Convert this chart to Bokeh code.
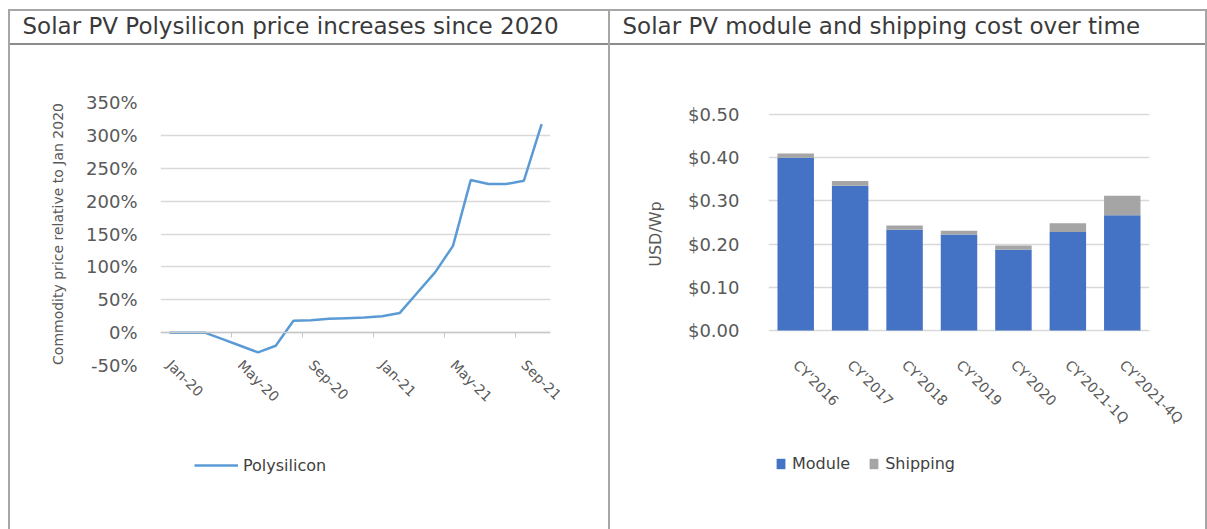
import math
from bokeh.plotting import figure
from bokeh.layouts import row, column
from bokeh.models import (Range1d, FactorRange, FixedTicker, LinearAxis, Legend, LegendItem,
                          NumeralTickFormatter, PrintfTickFormatter, ColumnDataSource, Title)
from bokeh.embed import file_html
from bokeh.resources import INLINE

# ---------------- data ----------------
left_title = "Solar PV Polysilicon price increases since 2020"
right_title = "Solar PV module and shipping cost over time"

months = ["Jan-20", "Feb-20", "Mar-20", "Apr-20", "May-20", "Jun-20", "Jul-20", "Aug-20",
          "Sep-20", "Oct-20", "Nov-20", "Dec-20", "Jan-21", "Feb-21", "Mar-21", "Apr-21",
          "May-21", "Jun-21", "Jul-21", "Aug-21", "Sep-21", "Oct-21"]
polysilicon = [0, 0, 0, -10, -20, -30, -20, 18, 19, 21, 22, 23, 25, 30, 61, 92,
               132, 232, 226, 226, 231, 317]
pct_ticks = [-50, 0, 50, 100, 150, 200, 250, 300, 350]

categories = ["CY'2016", "CY'2017", "CY'2018", "CY'2019", "CY'2020", "CY'2021-1Q", "CY'2021-4Q"]
module = [0.400, 0.335, 0.233, 0.222, 0.187, 0.228, 0.267]
shipping = [0.010, 0.011, 0.010, 0.009, 0.010, 0.020, 0.045]
usd_ticks = [0.0, 0.1, 0.2, 0.3, 0.4, 0.5]

# ---------------- style ----------------
FONT = "DejaVu Sans"
TXT = "#595959"
DARK = "#404040"
GRID = "#d9d9d9"
FRAME = "#a6a6a6"
HEAD = "#8c8c8c"
LINE_BLUE = "#5B9BD5"
BLUE = "#4472C4"
GRAY = "#A5A5A5"

MAIN_H, LEG_H = 450, 79
TOP, BOTTOM = 102, 85          # frame rows 102..365 in both main plots


def seg(color, x, y, w, h):
    return f"linear-gradient({color},{color}) {x} {y} / {w} {h} no-repeat"


def main_fig(w, x_range, y_range, bg, title_text, title_offset):
    p = figure(width=w, height=MAIN_H, x_range=x_range, y_range=y_range, output_backend="svg",
               toolbar_location=None, tools="", min_border_left=160, min_border_right=58,
               min_border_top=TOP, min_border_bottom=BOTTOM, styles={"background": bg})
    p.outline_line_color = None
    p.background_fill_color = "white"
    p.border_fill_alpha = 0
    # real title (stacked at the top of the header area)
    p.title.text = title_text
    p.title.align = "left"
    p.title.offset = title_offset
    p.title.standoff = 0
    p.title.text_font = FONT
    p.title.text_font_size = "23px"
    p.title.text_font_style = "normal"
    p.title.text_color = "#3a3a3a"
    # invisible spacer between the title and the plot frame
    p.add_layout(Title(text=" ", text_font_size="1px", standoff=61), "above")
    p.xgrid.visible = False
    p.ygrid.grid_line_color = GRID
    p.ygrid.grid_line_width = 1.5
    return p


def legend_fig(w, x_range, y_range, bg):
    f = figure(width=w, height=LEG_H, x_range=x_range, y_range=y_range,
               output_backend="svg", toolbar_location=None, tools="",
               x_axis_location=None, y_axis_location=None,
               min_border_left=160, min_border_right=58, min_border_top=0, min_border_bottom=0,
               styles={"background": bg})
    f.outline_line_color = None
    f.background_fill_alpha = 0
    f.border_fill_alpha = 0
    f.grid.visible = False
    return f


def style_axis(ax, size):
    ax.major_label_text_font = FONT
    ax.major_label_text_font_size = size
    ax.major_label_text_color = TXT
    ax.axis_line_color = None
    ax.major_tick_line_color = None
    ax.minor_tick_line_color = None


def legend(items, loc, gw, gh, standoff, spacing):
    return Legend(items=items, location=loc, orientation="horizontal",
                  glyph_width=gw, glyph_height=gh, label_height=gh, label_standoff=standoff,
                  spacing=spacing, padding=0, margin=0, border_line_color=None,
                  background_fill_alpha=0, label_text_font=FONT, label_text_font_size="16px",
                  label_text_color=DARK)


# ---------------- left chart ----------------
idx = list(range(len(months)))
label_idx = idx[::4]
sep_ticks = [i - 0.5 for i in label_idx[1:]]

bg1 = ", ".join([seg(FRAME, "8px", "9px", "2px", "100%"),
                 seg(FRAME, "8px", "9px", "100%", "2px"),
                 seg(HEAD, "8px", "43px", "100%", "2px"), "#ffffff"])
p1 = main_fig(608, Range1d(-0.5, len(months) - 0.5), Range1d(pct_ticks[0], pct_ticks[-1]),
              bg1, left_title, -138)

src1 = ColumnDataSource(dict(x=idx, y=polysilicon, m=months))
p1.line(x="x", y="y", source=src1, line_color=LINE_BLUE, line_width=2.5)

xa = p1.xaxis[0]
xa.ticker = FixedTicker(ticks=label_idx)
xa.major_label_overrides = {i: months[i] for i in label_idx}
xa.major_label_orientation = -math.pi / 4
xa.major_label_standoff = -9
style_axis(xa, "14px")

ya = p1.yaxis[0]
ya.ticker = FixedTicker(ticks=pct_ticks)
ya.formatter = PrintfTickFormatter(format="%d%%")
ya.major_label_standoff = 17
style_axis(ya, "18px")
ya.axis_label = "Commodity price relative to Jan 2020"
ya.axis_label_text_font = FONT
ya.axis_label_text_font_size = "14px"
ya.axis_label_text_font_style = "normal"
ya.axis_label_text_color = TXT
ya.axis_label_standoff = 17

zero_axis = LinearAxis(fixed_location=0, ticker=FixedTicker(ticks=sep_ticks),
                       major_label_overrides={t: "" for t in sep_ticks},
                       axis_line_color="#c8c8c8", axis_line_width=1.5,
                       major_tick_line_color="#c8c8c8", major_tick_out=5, major_tick_in=0,
                       minor_tick_line_color=None, major_label_text_font_size="1px")
p1.add_layout(zero_axis, "below")

# legend strip: same series drawn far outside its view, only its legend entry shows
bgl1 = seg(FRAME, "8px", "0px", "2px", "100%") + ", #ffffff"
off1 = max(polysilicon) * 10
l1 = legend_fig(608, Range1d(-0.5, len(months) - 0.5), Range1d(off1, off1 + 1), bgl1)
r1_leg = l1.line(x="x", y="y", source=src1, line_color=LINE_BLUE, line_width=2.5)
l1.add_layout(legend([LegendItem(label="Polysilicon", renderers=[r1_leg])],
                     (34, 54), 44, 20, 5, 0))

# ---------------- right chart ----------------
px_per_unit = 432.0                      # frame px per 1.00 USD
y_lo = usd_ticks[0] - 35 / px_per_unit
y_hi = usd_ticks[-1] + 12 / px_per_unit

bg2 = ", ".join([seg(FRAME, "0px", "9px", "2px", "100%"),
                 seg(FRAME, "597px", "9px", "2px", "100%"),
                 seg(FRAME, "0px", "9px", "100%", "2px"),
                 seg(HEAD, "0px", "43px", "100%", "2px"), "#ffffff"])
p2 = main_fig(599, FactorRange(factors=categories), Range1d(y_lo, y_hi), bg2, right_title, -146)

src2 = ColumnDataSource(dict(cat=categories, module=module, shipping=shipping))
p2.vbar_stack(["module", "shipping"], x="cat", width=0.67, color=[BLUE, GRAY],
              line_color=None, source=src2)

xb = p2.xaxis[0]
xb.major_label_orientation = -math.pi / 4
xb.major_label_standoff = -9
style_axis(xb, "14px")

yb = p2.yaxis[0]
yb.ticker = FixedTicker(ticks=usd_ticks)
yb.formatter = NumeralTickFormatter(format="$0.00")
yb.major_label_standoff = 23
style_axis(yb, "18px")
yb.axis_label = "USD/Wp"
yb.axis_label_text_font = FONT
yb.axis_label_text_font_size = "16px"
yb.axis_label_text_font_style = "normal"
yb.axis_label_text_color = TXT
yb.axis_label_standoff = 20

bgl2 = ", ".join([seg(FRAME, "0px", "0px", "2px", "100%"),
                  seg(FRAME, "597px", "0px", "2px", "100%"), "#ffffff"])
off2 = 10.0
l2 = legend_fig(599, FactorRange(factors=categories), Range1d(off2, off2 + 1), bgl2)
leg_bars = l2.vbar_stack(["module", "shipping"], x="cat", width=0.67, color=[BLUE, GRAY],
                         line_color=None, source=src2)
l2.add_layout(legend([LegendItem(label="Module", renderers=[leg_bars[0]]),
                      LegendItem(label="Shipping", renderers=[leg_bars[1]])],
                     (7, 56), 11, 13, 6, 18))

layout = row(column(p1, l1), column(p2, l2))
open("out.html", "w").write(file_html(layout, INLINE))
